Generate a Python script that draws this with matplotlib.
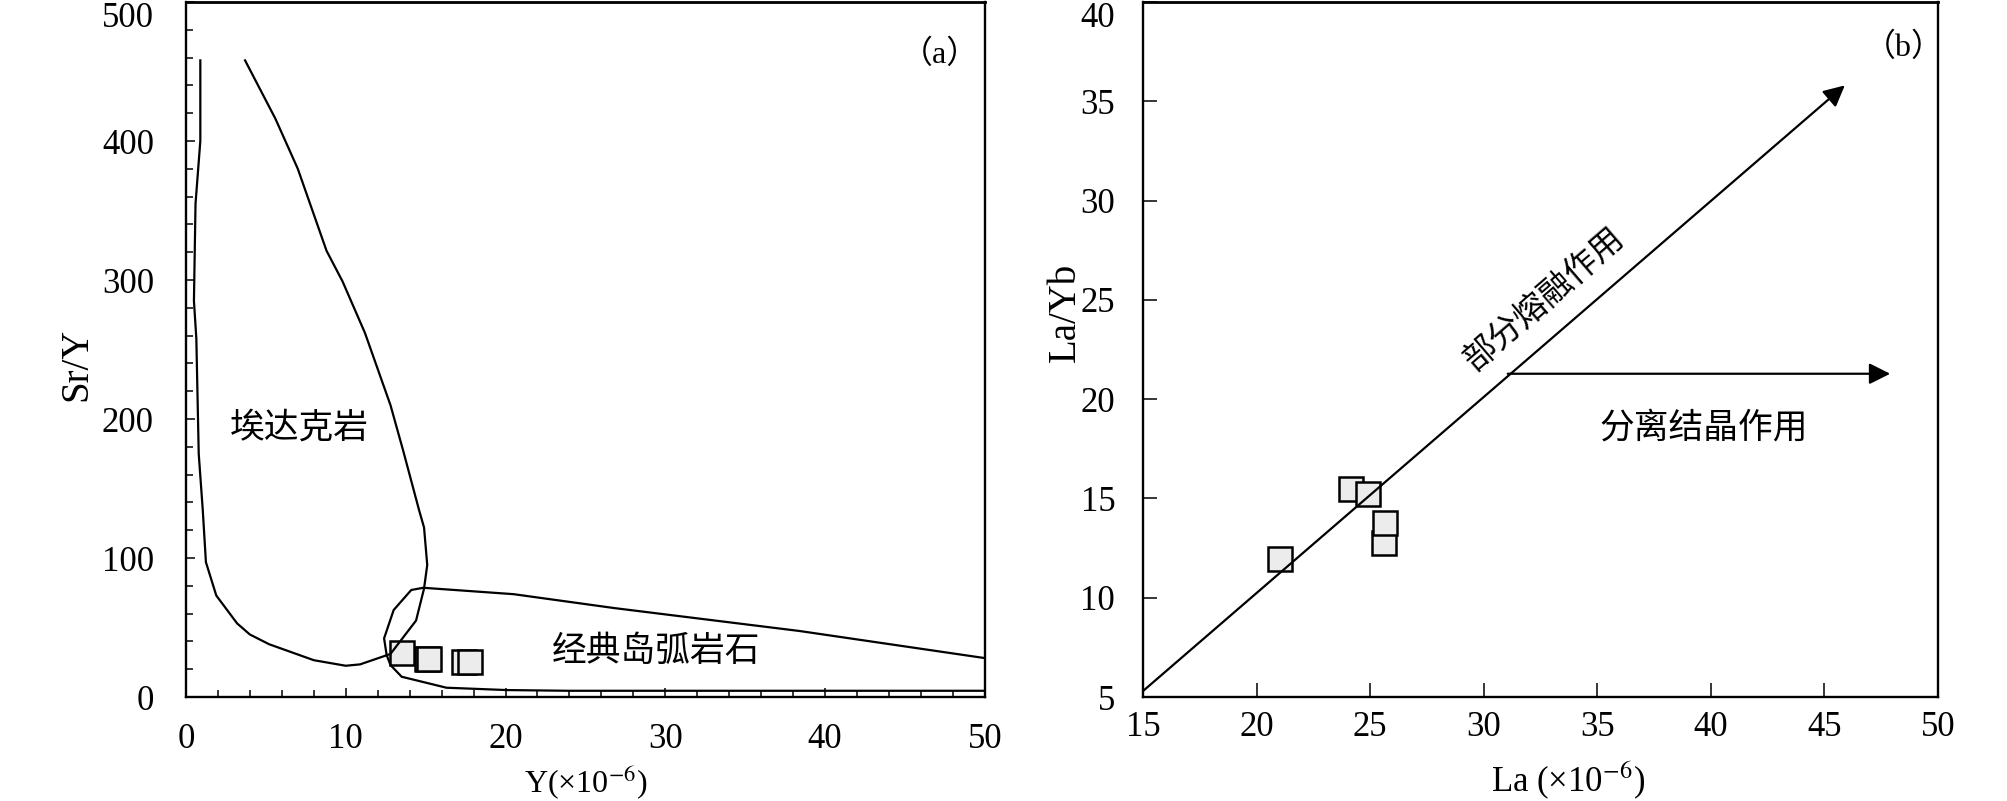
import matplotlib
matplotlib.use('Agg')
import matplotlib.pyplot as plt
from matplotlib.ticker import MultipleLocator

plt.rcParams['font.family'] = ['Liberation Serif', 'Noto Sans CJK SC']
plt.rcParams['mathtext.fontset'] = 'stix'

# (a) Sr/Y - Y fields
adakite_x = [0.9, 0.9, 0.6, 0.5, 0.65, 0.8, 1.05, 1.25, 1.9, 3.2, 4.0, 5.2, 8.0, 10.0, 10.9,
             12.8, 13.4, 14.4, 14.9, 15.1, 14.9, 14.6, 13.6, 12.8, 11.2, 9.8, 8.8, 7.0, 5.6, 3.7]
adakite_y = [458, 400, 355, 285, 258, 175, 135, 97, 73, 53, 45, 38, 26.5, 22.5, 23.5,
             31, 40, 55, 78, 95, 122, 134, 177, 210, 262, 299, 321, 380, 416, 458]
arc_x = [50, 38.4, 26.8, 20.5, 14.85, 14.1, 13.0, 12.4, 12.56, 12.8, 13.5, 16.3, 20.1, 24.0, 50]
arc_y = [28, 47.5, 64, 74, 78.6, 77, 62.6, 42.2, 30.2, 23, 14.6, 6.7, 5.0, 4.5, 4.5]
sample_y = [13.5, 15.1, 15.2, 17.4, 17.8]
sample_sry = [31.4, 27.3, 27.6, 25.0, 25.0]
a_xticks = [0, 10, 20, 30, 40, 50]
a_yticks = [0, 100, 200, 300, 400, 500]

# (b) La/Yb - La
sample_la = [21.03, 24.16, 24.92, 25.63, 25.66]
sample_layb = [11.95, 15.47, 15.2, 12.74, 13.75]
pm_start = (15.0, 5.3)
pm_end = (45.9, 35.8)
fc_start = (31.06, 21.28)
fc_end = (47.9, 21.28)
b_xticks = [15, 20, 25, 30, 35, 40, 45, 50]
b_yticks = [5, 10, 15, 20, 25, 30, 35, 40]

fig = plt.figure(figsize=(20.08, 8.01), dpi=100)
ax1 = fig.add_axes([0.0926, 0.1298, 0.3979, 0.8677])
ax2 = fig.add_axes([0.5692, 0.1298, 0.3959, 0.8677])

sq = dict(marker='s', markersize=17, markerfacecolor='#ececec', markeredgecolor='k',
          markeredgewidth=1.8, linestyle='none', zorder=2)

# panel a
ax1.plot(sample_y, sample_sry, **sq)
ax1.plot(adakite_x, adakite_y, color='k', lw=1.6, zorder=3)
ax1.plot(arc_x, arc_y, color='k', lw=1.6, zorder=3)
ax1.set_xlim(0, 50)
ax1.set_ylim(0, 500)
ax1.set_xticks(a_xticks)
ax1.set_yticks(a_yticks)
ax1.xaxis.set_minor_locator(MultipleLocator(2))
ax1.yaxis.set_minor_locator(MultipleLocator(20))
ax1.tick_params(which='both', direction='in', width=1.1, top=False, right=False)
ax1.tick_params(which='major', length=6.5)
ax1.tick_params(which='minor', length=4.7)
ax1.tick_params(axis='x', which='major', labelsize=25, pad=19)
ax1.tick_params(axis='y', which='major', labelsize=25, pad=23)
ax1.text(7.1, 193, '埃达克岩', fontsize=25, ha='center', va='center')
ax1.text(29.4, 32, '经典岛弧岩石', fontsize=25, ha='center', va='center')
ax1.text(47.2, 462, '（a）', fontsize=23, ha='center', va='center')
ax1.set_ylabel('Sr/Y', fontsize=28, va='center')
ax1.set_xlabel('Y(×10$^{-6}$)', fontsize=23, va='center')
ax1.yaxis.set_label_coords(-0.136, 0.478)
ax1.xaxis.set_label_coords(0.501, -0.122)

# panel b
ax2.plot(sample_la, sample_layb, **sq)
arrow = dict(arrowstyle='-|>', mutation_scale=32, lw=1.6, color='k', shrinkA=0, shrinkB=0)
ax2.annotate('', xy=pm_end, xytext=pm_start, arrowprops=arrow, zorder=3)
ax2.annotate('', xy=fc_end, xytext=fc_start, arrowprops=arrow, zorder=3)
ax2.set_xlim(15, 50)
ax2.set_ylim(5, 40)
ax2.set_xticks(b_xticks)
ax2.set_yticks(b_yticks)
ax2.tick_params(direction='in', width=1.1, length=10, top=False, right=False, labelsize=25)
ax2.tick_params(axis='x', pad=10)
ax2.tick_params(axis='y', pad=20)
ax2.text(32.7, 25.0, '部分熔融作用', fontsize=24, ha='center', va='center', rotation=40.8,
         rotation_mode='anchor')
ax2.text(39.7, 18.5, '分离结晶作用', fontsize=25, ha='center', va='center')
ax2.text(48.5, 37.7, '（b）', fontsize=23, ha='center', va='center')
ax2.set_ylabel('La/Yb', fontsize=28, va='center')
ax2.set_xlabel('La (×10$^{-6}$)', fontsize=25, va='center')
ax2.yaxis.set_label_coords(-0.098, 0.553)
ax2.xaxis.set_label_coords(0.535, -0.12)

for ax in (ax1, ax2):
    for s in ax.spines.values():
        s.set_linewidth(1.7)
    ax.spines['top'].set_linewidth(2.0)
    # keep the top label inside the figure
    ax.get_yticklabels()[-1].set_va('top')

fig.savefig('out.png', dpi=100)
